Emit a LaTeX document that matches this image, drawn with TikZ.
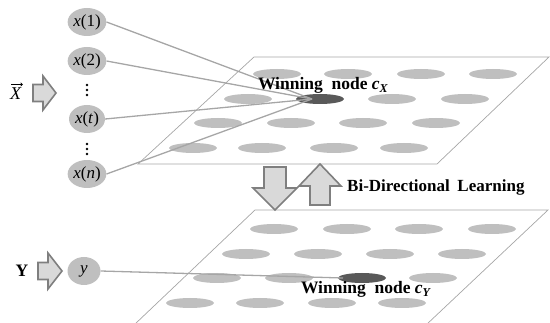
\documentclass[tikz,border=0pt]{standalone}
\usepackage{fontspec}
\usepackage{graphicx}
\setmainfont{Liberation Serif}
\usetikzlibrary{shapes.geometric,arrows.meta}
\definecolor{cellgray}{HTML}{BFBFBF}
\definecolor{wingray}{HTML}{595959}
\definecolor{edgegray}{HTML}{A6A6A6}
\definecolor{arrowfill}{HTML}{D9D9D9}
\definecolor{arrowline}{HTML}{7F7F7F}
\newcommand{\subvar}[2]{\textit{#1}{\fontsize{12}{12}\selectfont\raisebox{-3pt}{\textit{#2}}}}
\tikzset{
  cell/.style={ellipse, fill=cellgray, minimum width=48pt, minimum height=10pt, inner sep=0pt},
  wincell/.style={cell, fill=wingray},
  innode/.style={ellipse, fill=cellgray, minimum width=36pt, minimum height=28pt, inner sep=0pt,
    font=\fontsize{17}{17}\selectfont},
  plane/.style={draw=edgegray, line width=0.7pt},
  link/.style={draw=edgegray, line width=1.3pt},
  blockarrow/.style={draw=arrowline, fill=arrowfill, line width=1.6pt, line join=miter},
  boldtext/.style={font=\bfseries\fontsize{17.5}{17.5}\selectfont, inner sep=0pt},
  dot/.style={fill=black}
}
\begin{document}
\begin{tikzpicture}[x=1pt,y=-1pt]
\useasboundingbox (0,0) rectangle (550,323);
\begin{scope}
\clip (0,0) rectangle (550,323);
% upper map plane
\draw[plane] (254,57) -- (549,57) -- (437,164) -- (138,164) -- cycle;
% lower map plane
\draw[plane] (255,210) -- (548,210) -- (426,325) -- (134,325) -- cycle;
\end{scope}

% upper map cells
\foreach \cx/\i in {277/1,348/2,421/3,493/4} \node[cell] (ua\i) at (\cx,74) {};
\foreach \cx/\i in {248/1,392/3,465/4} \node[cell] (ub\i) at (\cx,99) {};
\node[wincell] (cx) at (320,99) {};
\foreach \cx/\i in {218/1,291/2,363/3,436/4} \node[cell] (uc\i) at (\cx,123) {};
\foreach \cx/\i in {193/1,262/2,334/3,404/4} \node[cell] (ud\i) at (\cx,148) {};

% lower map cells
\foreach \cx/\i in {274/1,347/2,419/3,492/4} \node[cell] (la\i) at (\cx,229) {};
\foreach \cx/\i in {246/1,318/2,390/3,462/4} \node[cell] (lb\i) at (\cx,254) {};
\foreach \cx/\i in {217/1,289/2,433/4} \node[cell] (lc\i) at (\cx,278) {};
\node[wincell] (cy) at (362,278) {};
\foreach \cx/\i in {190/1,260/2,332/3,402/4} \node[cell] (ld\i) at (\cx,303) {};

% input vector nodes
\node[innode] (x1) at (87,22) {\textit{x}(1)};
\node[innode] (x2) at (87,61) {\textit{x}(2)};
\node[innode] (xt) at (87,119) {\textit{x}(\textit{t})};
\node[innode] (xn) at (87,174) {\textit{x}(\textit{n})};
\node[innode, minimum width=33pt] (yy) at (84,271) {\textit{y}};

% vertical ellipsis between the inputs
\foreach \yy in {85,90,95,144,149,154} \fill[dot] (87,\yy) circle (1.4pt);

% connections to the winning nodes
\coordinate (cxin) at (312,99);
\foreach \n in {x1,x2,xt,xn} \draw[link] (\n.east) -- (cxin);
\coordinate (cyin) at (343,278);
\draw[link] (yy.east) -- (cyin);

% winning node labels
\node[boldtext, anchor=base] (lx) at (323,90) {Winning\ \ node \subvar{c}{X}};
\node[boldtext, anchor=base] (ly) at (366,294) {Winning\ \ node \subvar{c}{Y}};

% input block arrows and their labels
\draw[blockarrow] (33,84.5) -- (43,84.5) -- (43,76) -- (56,93) -- (43,110)
  -- (43,101.5) -- (33,101.5) -- cycle;
\node[font=\fontsize{18}{18}\selectfont, inner sep=0pt, anchor=base] (lxv) at (16,100) {\textit{X}};
\coordinate (vecl) at (11,84.5);
\coordinate (vecr) at (23,84.5);
\draw[line width=0.6pt, -{Straight Barb[length=2pt,width=3.5pt]}] (vecl) -- (vecr);
\draw[blockarrow] (38,262.5) -- (48,262.5) -- (48,253) -- (62,271) -- (48,289)
  -- (48,279.5) -- (38,279.5) -- cycle;
\node[boldtext] (lyv) at (22,271) {Y};

% bi-directional learning block arrows
\draw[blockarrow] (264,167) -- (286,167) -- (286,188) -- (297,188) -- (275,210)
  -- (253,188) -- (264,188) -- cycle;
\draw[blockarrow] (320,164) -- (341,186) -- (330,186) -- (330,205) -- (310,205)
  -- (310,186) -- (299,186) -- cycle;
\node[boldtext, anchor=base west, font=\bfseries\fontsize{17}{17}\selectfont]
  (bl) at (347,192) {Bi-Directional\hspace{0.45em}Learning};
\end{tikzpicture}
\end{document}
